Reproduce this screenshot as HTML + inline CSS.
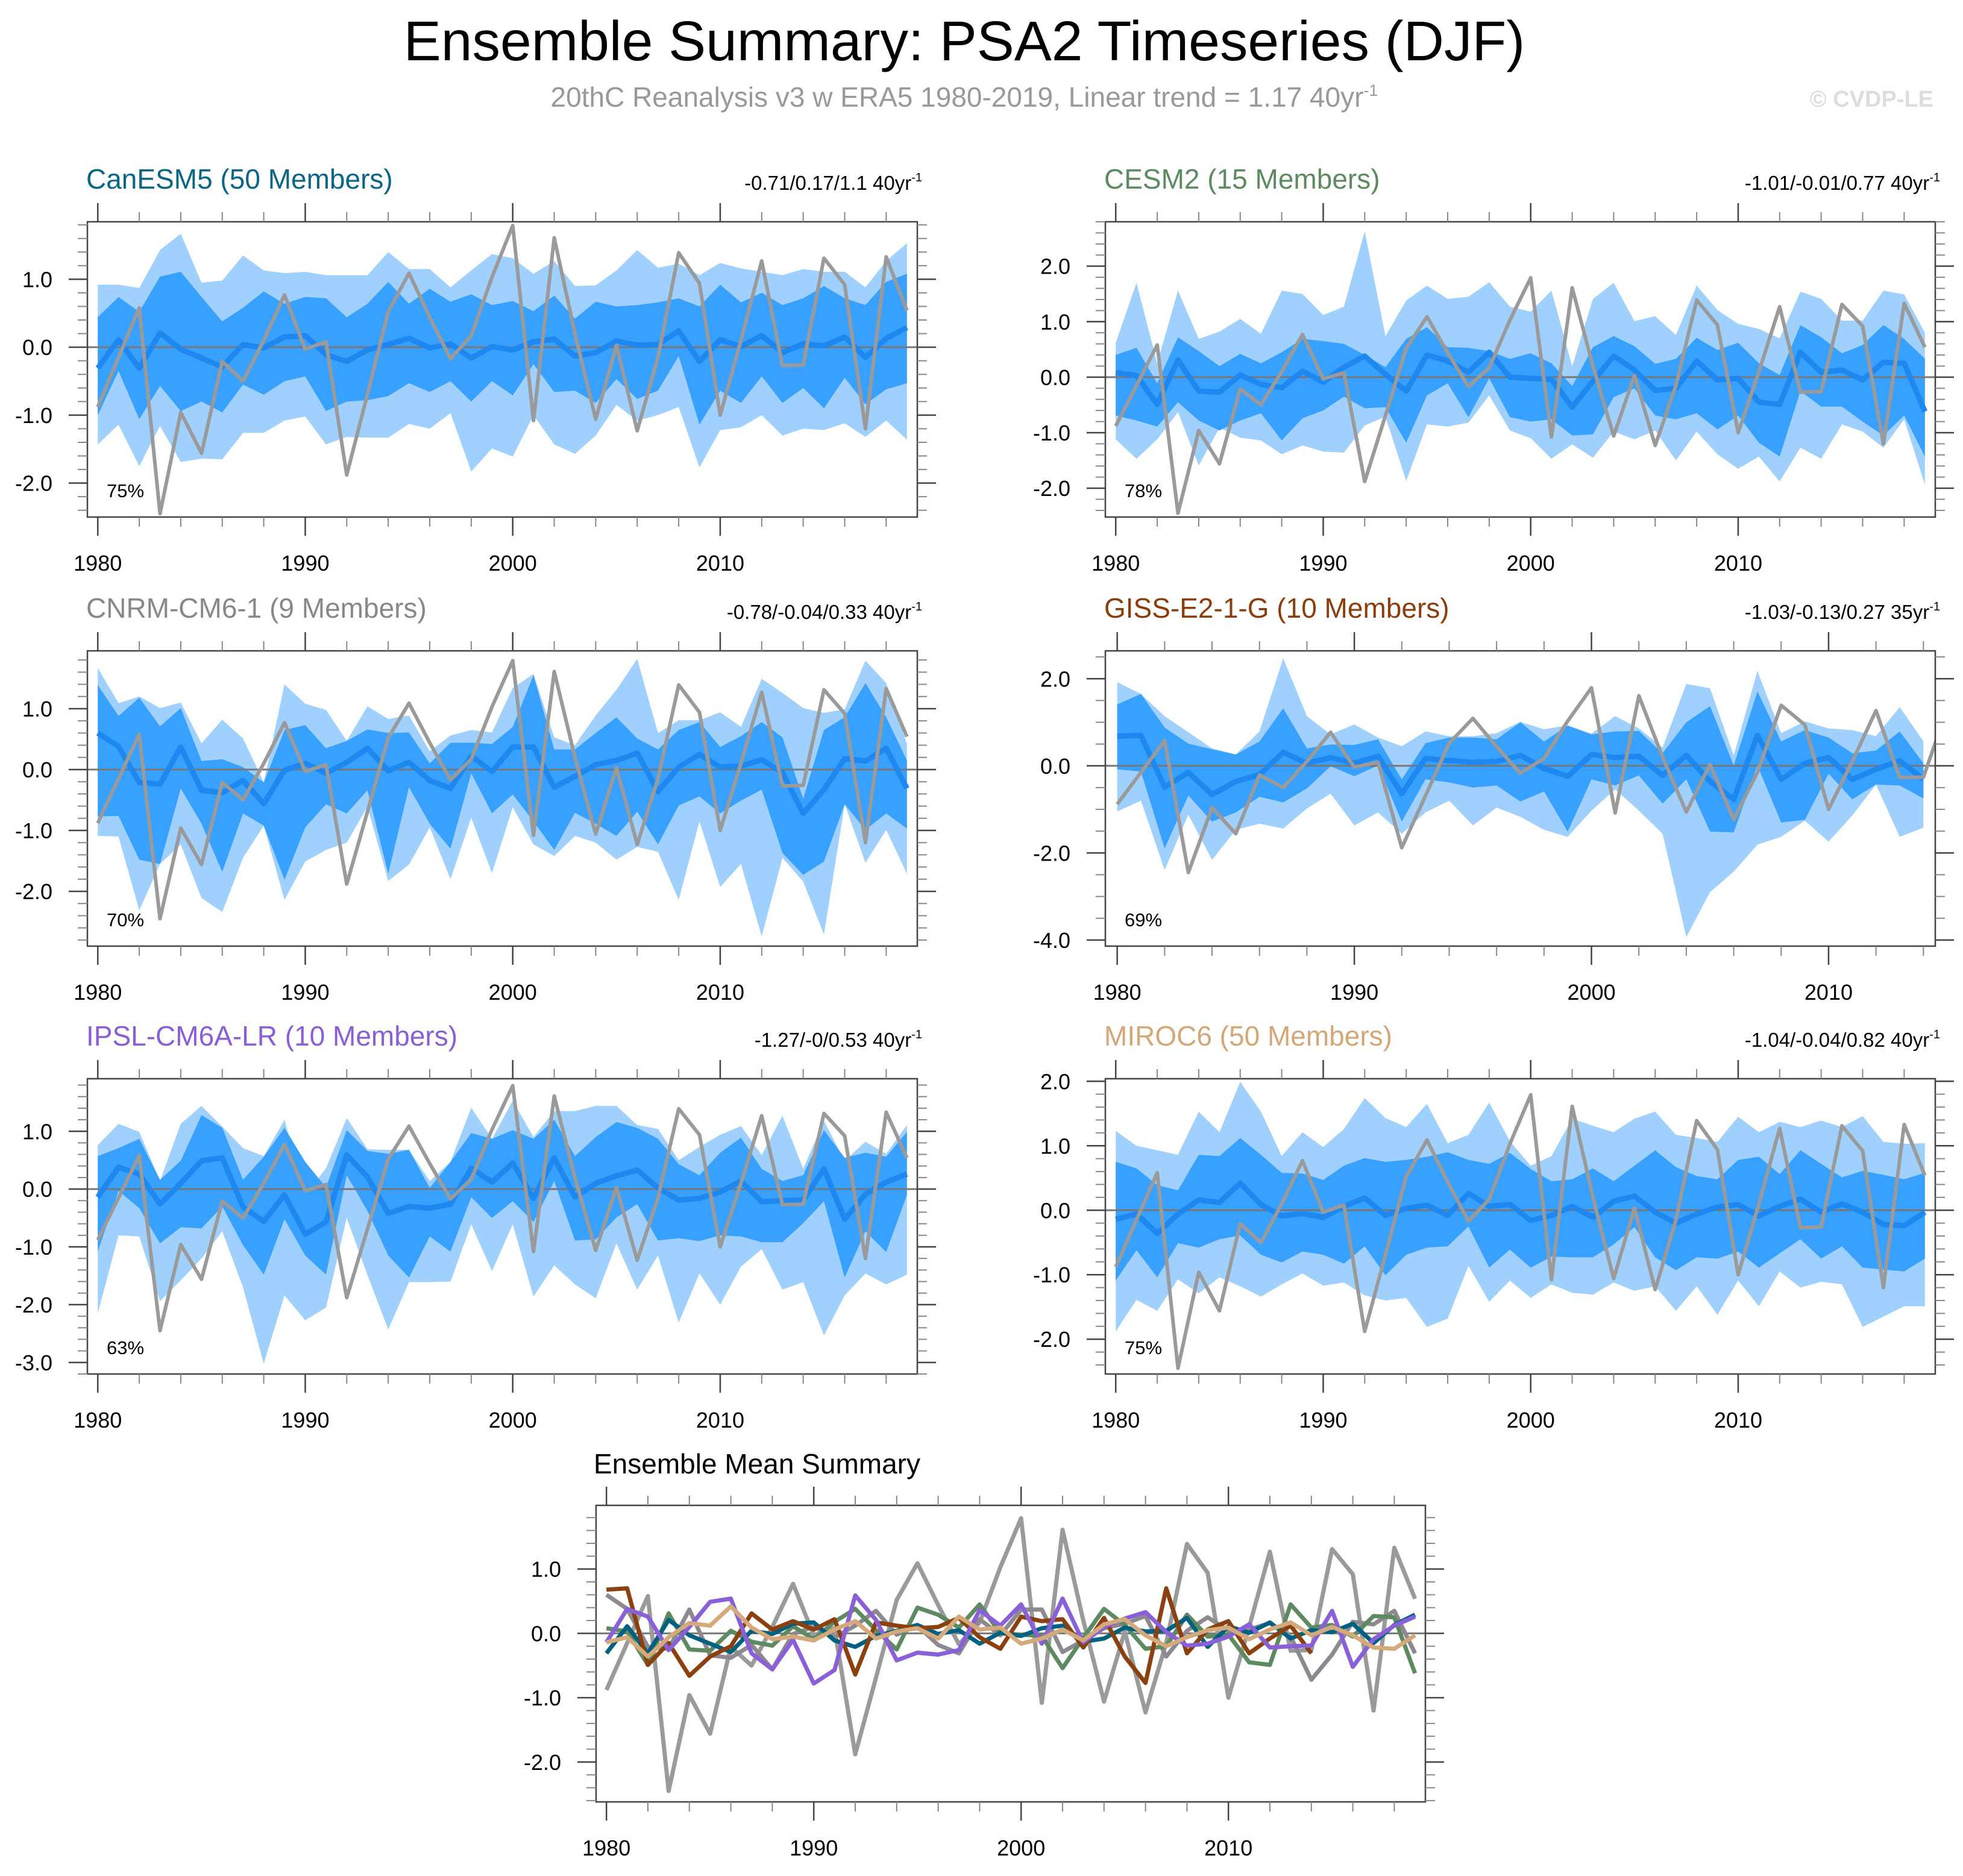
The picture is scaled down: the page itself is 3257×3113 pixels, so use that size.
<!DOCTYPE html>
<html><head><meta charset="utf-8"><style>
html,body{margin:0;padding:0;background:#fff;}
svg{display:block;font-family:"Liberation Sans",Arial,sans-serif;}
</style></head><body>
<svg id="chart" xmlns="http://www.w3.org/2000/svg" width="3257" height="3113" viewBox="0 0 3257 3113">
<rect width="3257" height="3113" fill="#fff"/>
<text x="1600" y="100" text-anchor="middle" font-size="93" fill="#000">Ensemble Summary: PSA2 Timeseries (DJF)</text>
<text x="1600" y="177" text-anchor="middle" font-size="46" fill="#999">20thC Reanalysis v3 w ERA5 1980-2019, Linear trend = 1.17 40yr<tspan dy="-18" font-size="27">-1</tspan></text>
<text x="3208" y="177" text-anchor="end" font-size="38" font-weight="bold" fill="#ddd">© CVDP-LE</text>
<text x="985" y="2445" font-size="46" fill="#000">Ensemble Mean Summary</text>
</svg>
<script>
const years = [];
for (let y = 1980; y <= 2019; y++) years.push(y);
const obs = [-0.88,-0.15,0.58,-2.45,-0.96,-1.56,-0.21,-0.5,0.1,0.77,-0.03,0.08,-1.88,-0.69,0.52,1.09,0.44,-0.17,0.17,1.03,1.79,-1.08,1.61,0.2,-1.06,0.03,-1.23,-0.15,1.39,0.94,-1.0,0.1,1.27,-0.27,-0.26,1.31,0.92,-1.2,1.33,0.54];

const canMean = [-0.31,0.11,-0.31,0.21,-0.03,-0.16,-0.29,0.04,-0.01,0.15,0.17,-0.11,-0.21,-0.04,0.04,0.13,-0.01,0.05,-0.16,0.01,-0.04,0.08,0.12,-0.13,-0.08,0.09,0.03,0.04,0.24,-0.21,0.11,0.01,0.17,-0.08,0.05,0.02,0.15,-0.15,0.13,0.29];
const canDarkHi = [0.44,0.74,0.52,1.04,1.11,0.74,0.38,0.58,0.82,0.64,0.74,0.72,0.44,0.64,0.96,0.64,0.86,0.67,0.78,0.62,0.68,0.53,0.76,0.42,0.67,0.6,0.62,0.66,0.72,0.6,0.92,0.66,0.8,0.62,0.72,0.9,0.72,0.62,0.96,1.08];
const canDarkLo = [-1.0,-0.35,-1.06,-0.57,-0.94,-0.8,-0.96,-0.55,-0.7,-0.5,-0.43,-0.94,-0.8,-0.78,-0.72,-0.53,-0.66,-0.5,-0.8,-0.5,-0.71,-0.25,-0.66,-0.64,-0.82,-0.47,-0.76,-0.64,-0.13,-1.14,-0.64,-0.82,-0.43,-0.82,-0.6,-0.9,-0.45,-0.84,-0.62,-0.53];
const canLightHi = [0.92,0.92,0.87,1.43,1.67,0.95,0.98,1.35,1.13,1.09,1.11,1.06,1.06,1.06,1.4,1.15,1.15,0.88,1.13,1.37,1.31,1.08,1.27,0.9,0.91,1.13,1.43,1.17,1.23,1.06,1.24,1.16,1.11,1.06,1.15,1.11,1.11,0.88,1.27,1.53];
const canLightLo = [-1.43,-1.14,-1.75,-1.16,-1.69,-1.64,-1.65,-1.26,-1.26,-1.08,-1.02,-1.43,-1.32,-1.33,-1.33,-1.13,-1.2,-0.97,-1.83,-1.49,-1.61,-1.0,-1.43,-1.57,-1.3,-0.85,-1.08,-1.0,-0.88,-1.77,-1.22,-1.18,-1.0,-1.3,-1.2,-1.22,-1.12,-1.32,-1.08,-1.36];

const cesmMean = [0.08,0.03,-0.49,0.31,-0.25,-0.27,0.04,-0.13,-0.19,0.11,-0.09,0.18,0.38,0.05,-0.25,0.4,0.29,0.09,0.45,0,-0.02,-0.04,-0.54,-0.07,0.38,0.13,-0.24,-0.2,0.29,-0.05,-0.02,-0.45,-0.49,0.45,0.09,0.13,-0.05,0.27,0.25,-0.62];
const cesmDarkHi = [0.4,0.53,-0.11,0.72,0.47,0.2,0.42,0.25,0.45,0.69,0.65,0.6,0.4,0.18,0.69,0.9,0.54,0.53,0.47,0.33,0.43,0.25,-0.16,0.54,0.74,0.56,0.24,0.33,0.71,0.49,0.62,0.25,0.04,0.94,0.72,0.43,0.58,0.94,0.69,0.33];
const cesmDarkLo = [-0.69,-0.78,-0.89,-0.45,-0.78,-0.96,-0.78,-0.65,-1.14,-0.74,-0.6,-0.35,-0.56,-0.54,-1.18,-0.33,-0.11,-0.72,-0.02,-0.72,-0.8,-0.76,-1.05,-1.03,-0.36,-0.2,-0.69,-0.76,-0.65,-0.94,-0.69,-1.18,-1.43,-0.25,-0.53,-0.53,-0.8,-1.05,-0.69,-1.43];
const cesmLightHi = [0.62,1.7,0.25,1.56,0.69,0.82,1.05,0.78,1.56,1.5,1.12,1.27,2.63,0.74,1.38,1.65,1.41,1.45,1.71,1.27,1.18,1.56,0.2,1.41,1.7,1.01,1.1,0.76,1.65,1.21,0.96,0.87,0.7,1.54,1.41,1.02,1.02,1.56,1.49,0.8];
const cesmLightLo = [-1.12,-1.47,-1.12,-0.63,-1.59,-0.91,-1.09,-1.14,-1.39,-1.23,-1.34,-1.36,-0.87,-0.71,-1.87,-0.85,-0.89,-0.82,-0.33,-0.96,-1.1,-1.47,-1.21,-1.45,-0.98,-1.12,-0.96,-1.5,-0.98,-1.39,-1.65,-1.43,-1.88,-1.27,-1.47,-0.85,-0.98,-1.27,-0.76,-1.94];

const cnrmMean = [0.6,0.38,-0.21,-0.24,0.37,-0.34,-0.38,-0.18,-0.56,-0.01,0.1,-0.06,0.12,0.35,-0.02,0.12,-0.18,-0.31,0.22,-0.03,0.37,0.37,-0.29,-0.11,0.08,0.15,0.27,-0.36,0.04,0.25,0.04,0.06,0.16,-0.05,-0.72,-0.33,0.18,0.14,0.35,-0.31];
const cnrmDarkHi = [1.39,0.88,1.18,0.71,1.01,0.14,0.17,0.04,-0.21,0.65,0.73,0.35,0.47,0.66,0.6,0.61,0.1,0.44,0.44,0.42,0.7,1.55,0.33,0.33,0.6,0.86,0.51,0.33,0.65,0.78,0.37,0.55,0.78,0.53,-0.48,0.65,0.86,1.42,0.86,0.15];
const cnrmDarkLo = [-0.77,-0.76,-1.48,-1.55,-0.31,-0.89,-1.68,-0.72,-0.92,-1.81,-0.95,-0.57,-0.72,-0.34,-1.71,-0.29,-0.89,-1.3,-0.06,-0.72,-0.41,-0.85,-1.32,-0.71,-0.89,-1.09,-0.69,-1.23,-0.59,-0.44,-0.72,-0.51,-0.33,-1.37,-1.73,-1.51,-0.57,-0.99,-0.72,-0.97];
const cnrmLightHi = [1.67,1.09,1.2,1.01,1.1,0.43,0.82,0.51,-0.21,1.4,1.08,0.98,0.47,1.04,0.83,0.89,0.3,0.56,0.65,0.61,1.34,1.57,0.53,0.4,0.89,1.31,1.82,0.6,0.81,0.81,0.94,0.7,1.49,1.26,1.01,0.93,0.99,1.79,1.42,0.42];
const cnrmLightLo = [-1.09,-1.1,-2.31,-1.55,-1.23,-2.11,-2.34,-1.45,-0.92,-2.14,-1.51,-1.32,-1.2,-0.61,-1.83,-1.56,-0.95,-1.8,-0.79,-1.7,-0.62,-1.23,-1.42,-1.09,-1.2,-1.48,-1.27,-1.35,-2.14,-0.85,-1.93,-1.55,-2.74,-1.45,-1.84,-2.71,-0.57,-1.53,-0.99,-1.71];

const gissMean = [0.68,0.7,-0.49,-0.15,-0.66,-0.36,-0.2,0.31,0.06,0.19,0.06,0.22,-0.64,0.17,0.12,0.08,0.1,0.24,-0.06,-0.24,0.26,0.19,0.22,-0.22,0.24,-0.36,-0.77,0.7,-0.31,0.06,0.19,-0.31,-0.08,0.12,-0.31];
const gissDarkHi = [1.41,1.65,0.88,0.51,0.38,0.26,0.56,1.32,0.4,0.49,0.48,0.61,-0.31,0.52,0.65,0.65,0.61,1.0,0.56,0.92,0.72,0.79,0.8,0.29,1.0,1.37,0.01,1.71,0.56,0.82,0.65,0.29,0.35,0.79,0.06];
const gissDarkLo = [-0.08,-0.13,-1.9,-0.68,-1.28,-1.07,-0.71,-0.84,-0.52,-0.01,-0.24,0.01,-1.28,-0.31,-0.38,-0.5,-0.45,-0.82,-0.59,-1.51,-0.31,-0.45,-0.22,-0.87,-0.31,-1.51,-1.53,0.01,-1.3,-1.24,-0.18,-0.77,-0.43,-0.45,-0.75];
const gissLightHi = [1.92,1.65,1.14,0.77,0.4,0.26,0.79,2.47,1.14,0.72,0.95,0.65,0.45,0.79,0.68,0.68,0.75,1.01,0.84,0.93,0.74,1.14,0.86,0.42,1.88,1.78,0.24,2.18,0.75,1.02,0.86,0.82,0.68,1.35,0.56];
const gissLightLo = [-1.05,-0.8,-2.39,-1.12,-2.16,-1.47,-1.33,-1.44,-0.98,-0.64,-1.37,-1.07,-1.56,-1.07,-0.8,-1.37,-0.96,-1.17,-1.47,-1.63,-1.03,-0.54,-1.03,-1.56,-3.93,-2.9,-2.43,-1.81,-1.63,-1.26,-1.74,-1.14,-0.43,-1.63,-1.42];

const ipslMean = [-0.14,0.38,0.26,-0.26,0.1,0.49,0.54,-0.31,-0.56,-0.1,-0.78,-0.57,0.59,0.21,-0.42,-0.3,-0.33,-0.26,0.36,0.12,0.45,-0.16,0.54,-0.14,0.1,0.23,0.33,0.02,-0.19,-0.16,-0.05,0.14,-0.22,-0.2,-0.19,0.35,-0.52,-0.09,0.12,0.26];
const ipslDarkHi = [0.57,0.71,0.87,0.16,0.49,1.28,1.06,0.16,0.56,1.06,0.47,0.03,1.02,0.66,0.61,0.68,0.02,0.47,0.97,0.87,1.02,0.87,1.2,0.57,0.9,1.16,1.06,0.87,0.43,0.24,0.63,0.89,0.35,0.14,0.24,1.02,0.54,0.63,0.56,0.99];
const ipslDarkLo = [-1.08,-0.03,-0.33,-0.94,-0.66,-0.68,-0.3,-0.97,-1.48,-0.52,-1.15,-1.48,0.24,-0.38,-1.15,-1.53,-0.82,-1.08,-0.14,-0.5,-0.21,-0.57,0.14,-0.89,-0.87,-0.49,-0.26,-0.89,-0.85,-0.9,-0.8,-0.82,-0.92,-0.92,-0.59,-0.21,-1.53,-0.73,-1.09,-0.1];
const ipslLightHi = [0.76,1.13,0.99,0.14,1.13,1.44,1.08,0.71,0.57,1.2,-0.12,0.36,1.23,0.69,0.68,0.68,0.14,0.47,1.41,0.87,1.53,0.9,1.35,1.35,1.44,1.44,1.11,1.04,0.5,0.73,0.94,1.09,0.59,1.27,0.35,1.18,0.49,0.82,0.61,1.11];
const ipslLightLo = [-2.15,-0.8,-0.82,-1.94,-1.58,-1.2,-0.73,-1.7,-3.02,-1.84,-2.27,-2.05,-0.5,-1.49,-2.43,-1.61,-1.61,-1.6,-0.61,-1.42,-0.61,-1.86,-1.32,-1.65,-1.89,-0.94,-1.74,-1.15,-2.31,-1.46,-2.0,-1.34,-1.04,-1.74,-1.61,-2.53,-1.84,-1.46,-1.65,-1.48];

const mirocMean = [-0.14,-0.06,-0.36,-0.06,0.16,0.12,0.42,0.09,-0.09,-0.05,-0.11,0.06,0.19,-0.08,0.03,0.08,-0.08,0.26,0.06,0.09,-0.16,-0.08,0.06,-0.11,0.14,0.22,-0.03,-0.2,-0.06,0.05,0.09,-0.09,0.06,0.17,-0.03,0.1,-0.03,-0.22,-0.24,-0.03];
const mirocDarkHi = [0.75,0.65,0.39,0.31,0.86,0.84,1.12,0.86,0.58,0.57,0.47,0.69,0.81,0.75,0.78,0.83,0.9,0.78,0.72,0.89,0.64,0.45,0.48,0.65,0.45,0.69,0.93,0.67,0.53,0.48,0.78,0.83,0.56,0.93,0.72,0.51,0.61,0.55,0.48,0.58];
const mirocDarkLo = [-1.09,-0.62,-1.04,-0.51,-0.58,-0.45,-0.39,-0.69,-0.81,-0.64,-0.69,-0.83,-0.56,-1.01,-0.69,-0.58,-0.56,-0.25,-0.89,-0.61,-0.89,-0.72,-0.73,-0.73,-0.53,-0.26,-0.73,-0.93,-0.73,-0.75,-0.64,-0.89,-0.67,-0.45,-0.75,-0.56,-0.89,-0.92,-0.95,-0.75];
const mirocLightHi = [1.23,1.0,0.93,0.86,1.53,1.21,1.99,1.53,0.84,1.21,0.98,1.26,1.74,1.43,1.29,1.65,1.04,1.17,1.67,1.07,0.69,0.84,1.42,1.31,1.21,1.42,1.53,1.17,1.12,1.06,1.45,1.21,1.37,1.29,1.39,1.29,1.46,1.06,1.03,1.04];
const mirocLightLo = [-1.88,-1.39,-1.56,-1.07,-1.29,-1.04,-1.18,-1.34,-1.15,-0.98,-1.17,-1.12,-1.32,-1.4,-1.36,-1.81,-1.68,-0.86,-1.42,-1.09,-1.36,-1.15,-1.28,-1.31,-1.12,-1.25,-1.18,-1.56,-1.18,-1.62,-1.09,-1.49,-0.95,-1.2,-1.11,-1.15,-1.81,-1.65,-1.49,-1.49];

const NS = 'http://www.w3.org/2000/svg';
const svg = document.getElementById('chart');
function mk(tag, attrs, parent) {
  const e = document.createElementNS(NS, tag);
  for (const k in attrs) e.setAttribute(k, attrs[k]);
  (parent || svg).appendChild(e);
  return e;
}
let clipId = 0;
function drawPanel(p) {
  const g = mk('g', {});
  
  
  const sx = v => p.x0 + (v - p.xmin) / (p.xmax - p.xmin) * p.w;
  const sy = v => p.y0 + (p.ymax - v) / (p.ymax - p.ymin) * p.h;
  const cid = 'clip' + (clipId++);
  const cp = mk('clipPath', {id: cid}, g);
  mk('rect', {x: p.x0, y: p.y0, width: p.w, height: p.h}, cp);
  const inner = mk('g', {'clip-path': 'url(#' + cid + ')'}, g);
  function band(hi, lo, color, nm) {
    const n = hi.length;
    let pts = [];
    for (let i = 0; i < n; i++) pts.push(sx(years[i]) + ',' + sy(hi[i]));
    for (let i = n - 1; i >= 0; i--) pts.push(sx(years[i]) + ',' + sy(lo[i]));
    const el = mk('polygon', {points: pts.join(' '), fill: color}, inner);
    
    
  }
  function line(vals, color, wd, nm) {
    const pts = vals.map((v, i) => sx(years[i]) + ',' + sy(v)).join(' ');
    const el = mk('polyline', {points: pts, fill: 'none', stroke: color, 'stroke-width': wd, 'stroke-linejoin': 'round'}, inner);
    
    
  }
  if (p.lightHi) band(p.lightHi, p.lightLo, '#a0d0fe', 'band-10-90');
  if (p.darkHi) band(p.darkHi, p.darkLo, '#38a0ff', 'band-25-75');
  mk('line', {x1: p.x0, x2: p.x0 + p.w, y1: sy(0), y2: sy(0), stroke: '#777', 'stroke-width': 3}, inner);
  if (p.series) {
    line(obs, '#9a9a9a', 7, 'observed-line');
    p.series.forEach(s => line(s.vals, s.color, 7, s.nm));
  } else {
    line(p.mean, '#1e88f0', 9, 'ensemble-mean-line');
    line(obs, '#9a9a9a', 6, 'observed-line');
  }
  const frame = mk('rect', {x: p.x0, y: p.y0, width: p.w, height: p.h, fill: 'none', stroke: '#444', 'stroke-width': 2.5}, g);
  
  
  for (let yr = 1980; yr <= p.xmax; yr += 2) {
    const major = (yr % 10 === 0);
    const L = major ? 31 : 16;
    const x = sx(yr);
    mk('line', {x1: x, x2: x, y1: p.y0 + p.h, y2: p.y0 + p.h + L, stroke: major ? '#444' : '#888', 'stroke-width': major ? 2.5 : 2}, g);
    mk('line', {x1: x, x2: x, y1: p.y0, y2: p.y0 - L, stroke: major ? '#444' : '#888', 'stroke-width': major ? 2.5 : 2}, g);
    if (major) {
      const t = mk('text', {x: x, y: p.y0 + p.h + 89, 'text-anchor': 'middle', 'font-size': 36, fill: '#000'}, g);
      t.textContent = yr;
      
      
    }
  }
  const nmin = Math.ceil(p.ymin / p.minor - 1e-6), nmax = Math.floor(p.ymax / p.minor + 1e-6);
  for (let k = nmin; k <= nmax; k++) {
    const v = k * p.minor;
    const major = Math.abs(v / p.major - Math.round(v / p.major)) < 1e-6;
    const L = major ? 31 : 16;
    const y = sy(v);
    mk('line', {x1: p.x0, x2: p.x0 - L, y1: y, y2: y, stroke: major ? '#444' : '#888', 'stroke-width': major ? 2.5 : 2}, g);
    mk('line', {x1: p.x0 + p.w, x2: p.x0 + p.w + L, y1: y, y2: y, stroke: major ? '#444' : '#888', 'stroke-width': major ? 2.5 : 2}, g);
    if (major) {
      const t = mk('text', {x: p.x0 - 58, y: y + 13, 'text-anchor': 'end', 'font-size': 36, fill: '#000'}, g);
      t.textContent = v.toFixed(1);
      
      
    }
  }
  if (p.title) {
    const t = mk('text', {x: p.x0 - 2, y: p.y0 - 55, 'font-size': 46, fill: p.titleColor}, g);
    t.textContent = p.title;
    
    
    const s = mk('text', {x: p.x0 + p.w + 8, y: p.y0 - 53, 'text-anchor': 'end', 'font-size': 33, fill: '#000'}, g);
    
    
    s.textContent = p.stats;
    const sup = mk('tspan', {dy: -14, 'font-size': 20}, s);
    sup.textContent = '-1';
    const pc = mk('text', {x: p.x0 + 32, y: p.y0 + p.h - 33, 'font-size': 31, fill: '#000'}, g);
    pc.textContent = p.pct;
    
    
  }
}
const LX = 145, RX = 1834, W = 1377, H = 490;
drawPanel({name:'canesm5', x0:LX, y0:368, w:W, h:H, xmin:1979.5, xmax:2019.5, ymin:-2.5, ymax:1.846, major:1, minor:0.2,
  title:'CanESM5 (50 Members)', titleColor:'#0b6584', stats:'-0.71/0.17/1.1 40yr', pct:'75%',
  mean:canMean, darkHi:canDarkHi, darkLo:canDarkLo, lightHi:canLightHi, lightLo:canLightLo});
drawPanel({name:'cesm2', x0:RX, y0:368, w:W, h:H, xmin:1979.5, xmax:2019.5, ymin:-2.52, ymax:2.8, major:1, minor:0.2,
  title:'CESM2 (15 Members)', titleColor:'#5e8a62', stats:'-1.01/-0.01/0.77 40yr', pct:'78%',
  mean:cesmMean, darkHi:cesmDarkHi, darkLo:cesmDarkLo, lightHi:cesmLightHi, lightLo:cesmLightLo});
drawPanel({name:'cnrm', x0:LX, y0:1080, w:W, h:H, xmin:1979.5, xmax:2019.5, ymin:-2.9, ymax:1.95, major:1, minor:0.2,
  title:'CNRM-CM6-1 (9 Members)', titleColor:'#888888', stats:'-0.78/-0.04/0.33 40yr', pct:'70%',
  mean:cnrmMean, darkHi:cnrmDarkHi, darkLo:cnrmDarkLo, lightHi:cnrmLightHi, lightLo:cnrmLightLo});
drawPanel({name:'giss', x0:RX, y0:1080, w:W, h:H, xmin:1979.5, xmax:2014.5, ymin:-4.14, ymax:2.64, major:2, minor:0.5,
  title:'GISS-E2-1-G (10 Members)', titleColor:'#8b3e0c', stats:'-1.03/-0.13/0.27 35yr', pct:'69%',
  mean:gissMean, darkHi:gissDarkHi, darkLo:gissDarkLo, lightHi:gissLightHi, lightLo:gissLightLo});
drawPanel({name:'ipsl', x0:LX, y0:1790, w:W, h:H, xmin:1979.5, xmax:2019.5, ymin:-3.2, ymax:1.91, major:1, minor:0.2,
  title:'IPSL-CM6A-LR (10 Members)', titleColor:'#8a5fd6', stats:'-1.27/-0/0.53 40yr', pct:'63%',
  mean:ipslMean, darkHi:ipslDarkHi, darkLo:ipslDarkLo, lightHi:ipslLightHi, lightLo:ipslLightLo});
drawPanel({name:'miroc6', x0:RX, y0:1790, w:W, h:H, xmin:1979.5, xmax:2019.5, ymin:-2.54, ymax:2.04, major:1, minor:0.2,
  title:'MIROC6 (50 Members)', titleColor:'#d2a878', stats:'-1.04/-0.04/0.82 40yr', pct:'75%',
  mean:mirocMean, darkHi:mirocDarkHi, darkLo:mirocDarkLo, lightHi:mirocLightHi, lightLo:mirocLightLo});
drawPanel({name:'ensemble-mean-summary', x0:989, y0:2498, w:1376, h:492, xmin:1979.5, xmax:2019.5, ymin:-2.62, ymax:1.99, major:1, minor:0.2,
  series:[
    {vals:cnrmMean, color:'#8e8890', nm:'cnrm-mean-line'},
    {vals:cesmMean, color:'#5e8a62', nm:'cesm2-mean-line'},
    {vals:canMean, color:'#00607f', nm:'canesm5-mean-line'},
    {vals:gissMean, color:'#8b4010', nm:'giss-mean-line'},
    {vals:ipslMean, color:'#8a60d8', nm:'ipsl-mean-line'},
    {vals:mirocMean, color:'#d4aa7c', nm:'miroc6-mean-line'}
  ]});
</script>
</body></html>
